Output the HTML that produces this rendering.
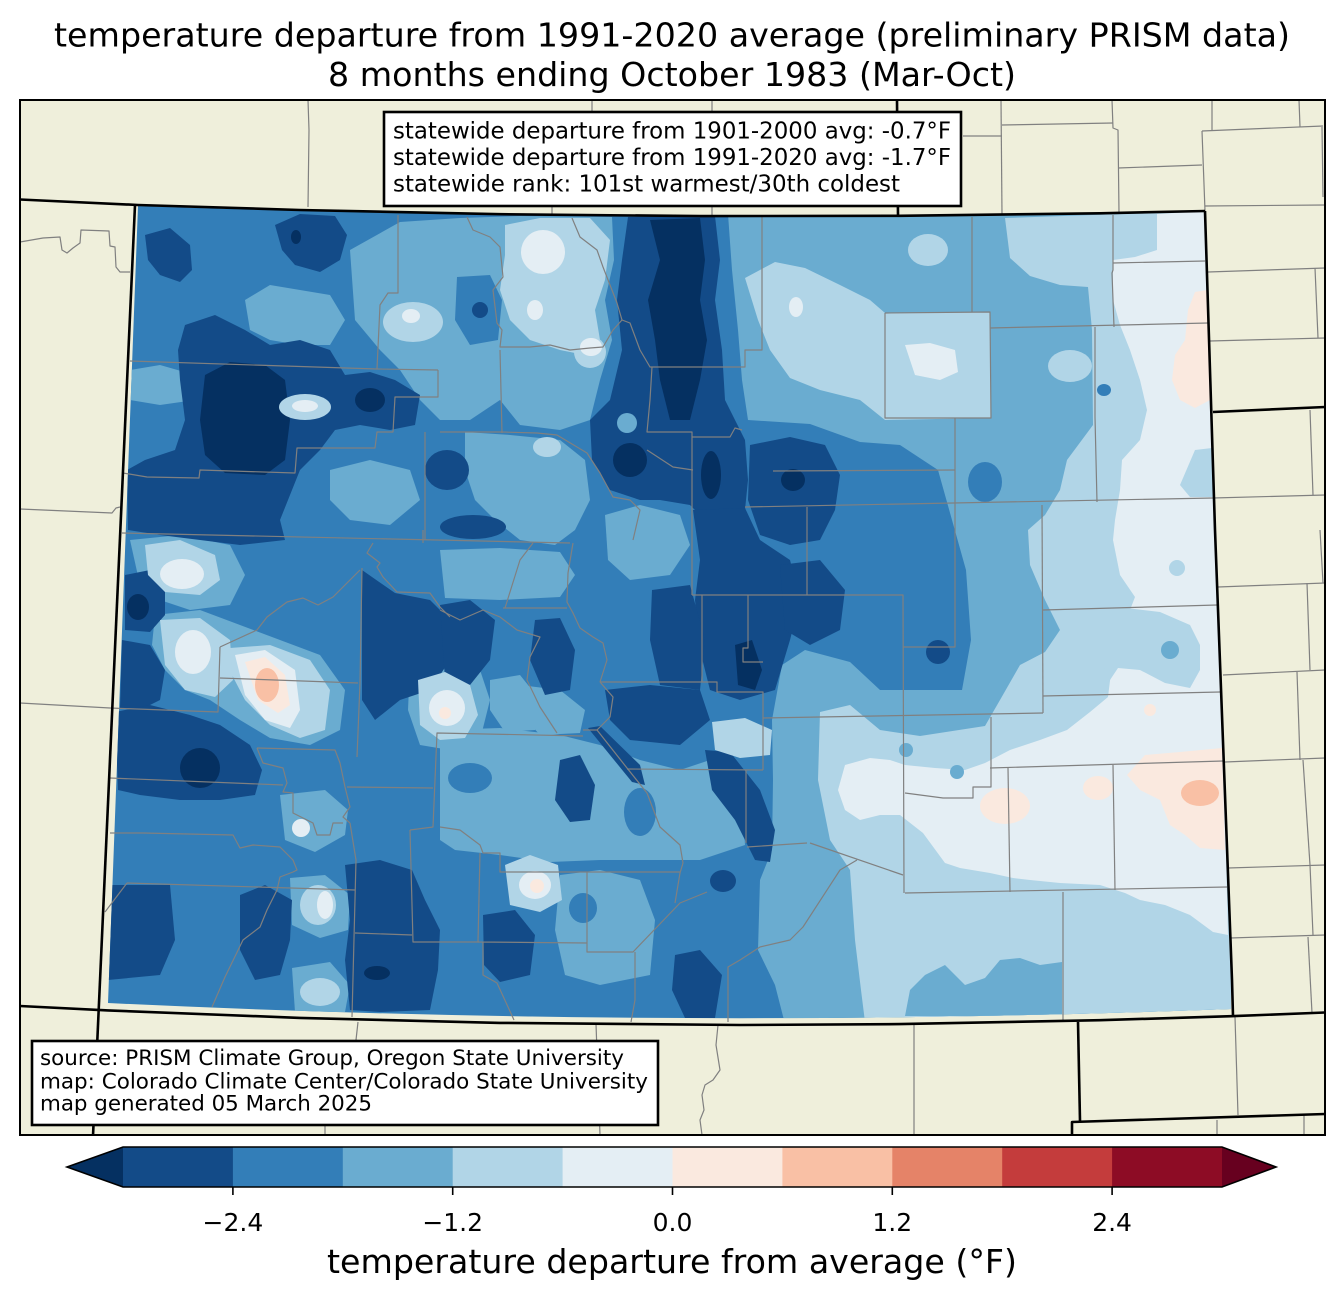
<!DOCTYPE html>
<html>
<head>
<meta charset="utf-8">
<style>
html,body{margin:0;padding:0;background:#fff;}
svg{display:block;}
text{font-family:"DejaVu Sans","Liberation Sans",sans-serif;fill:#000;}
</style>
</head>
<body>
<svg width="1344" height="1299" viewBox="0 0 1344 1299" xmlns="http://www.w3.org/2000/svg">
<rect x="0" y="0" width="1344" height="1299" fill="#ffffff"/>

<!-- Title -->
<text x="54" y="46.5" font-size="33" textLength="1236" lengthAdjust="spacingAndGlyphs">temperature departure from 1991-2020 average (preliminary PRISM data)</text>
<text x="328" y="86" font-size="33" textLength="688" lengthAdjust="spacingAndGlyphs">8 months ending October 1983 (Mar-Oct)</text>

<defs>
  <clipPath id="co">
    <path d="M138,206 Q670,224 1205,212 L1215,530 L1231,980 L1231,1009 Q669,1030 108,1003 Z"/>
  </clipPath>
  <clipPath id="frame">
    <rect x="20" y="100" width="1305" height="1035"/>
  </clipPath>
</defs>

<!-- land -->
<rect x="20" y="100" width="1305" height="1035" fill="#efefdb"/>

<g clip-path="url(#co)">
  <rect x="90" y="195" width="1160" height="840" fill="#337eb8"/>

  <!-- c3 -->
  <g fill="#6aacd0">
    <polygon points="728,214 1210,211 1233,1016 785,1024 775,985 758,950 760,880 772,850 773,780 772,720 782,665 805,650 850,662 880,690 962,690 971,640 966,570 952,520 938,470 900,445 860,442 810,424 748,420 742,380 738,330 732,270"/>
    <polygon points="350,250 400,222 460,218 520,216 612,217 614,260 605,300 612,340 600,380 590,420 560,430 520,425 500,400 470,420 440,420 420,400 400,370 380,350 355,320"/>
    <polygon points="245,300 270,285 300,290 330,295 345,320 330,345 300,345 270,340 250,330"/>
    <polygon points="130,370 160,365 195,375 195,400 160,405 130,400"/>
    <polygon points="330,470 370,460 410,470 420,500 390,525 350,520 330,500"/>
    <polygon points="465,432 510,435 560,440 585,460 590,500 575,530 555,545 520,540 495,520 475,500 465,470"/>
    <polygon points="440,550 500,548 560,552 575,575 560,597 500,600 445,598"/>
    <polygon points="490,680 520,675 540,700 535,730 505,732 490,710"/>
    <polygon points="520,685 560,690 585,710 580,733 540,735 522,715"/>
    <polygon points="440,730 500,728 560,735 600,745 640,760 680,770 710,760 735,765 742,800 745,845 700,860 660,860 600,860 550,862 500,855 455,850 440,840"/>
    <polygon points="560,875 600,870 640,880 655,920 650,975 600,985 565,975 555,930"/>
    <polygon points="290,878 325,875 350,895 348,930 320,938 292,925"/>
    <polygon points="292,968 330,962 350,985 345,1012 295,1012"/>
    <polygon points="280,795 325,790 348,810 345,835 315,852 285,840"/>
    <polygon points="130,540 180,535 230,545 245,575 230,605 190,610 160,600 140,585"/>
    <polygon points="155,615 200,610 240,625 280,640 320,655 345,690 340,730 310,745 270,738 240,720 210,700 185,690 165,670 152,645"/>
    <polygon points="410,665 440,660 480,670 490,700 480,740 450,750 420,745 408,710"/>
  </g>
  <!-- c2 patches inside c3 -->
  <g fill="#337eb8">
    <polygon points="457,277 490,275 502,300 498,340 470,345 455,320"/>
    <ellipse cx="470" cy="778" rx="22" ry="15"/>
    <ellipse cx="640" cy="812" rx="16" ry="24"/>
    <ellipse cx="583" cy="908" rx="14" ry="15"/>
  </g>

  <!-- c4 east -->
  <g fill="#b1d5e7">
    <polygon points="1005,218 1210,211 1233,1016 865,1022 861,990 855,940 850,870 830,840 818,780 820,712 850,705 880,730 920,736 985,726 1000,700 1020,665 1045,652 1060,630 1045,600 1030,565 1028,530 1045,515 1060,490 1067,460 1093,425 1092,330 1088,287 1060,285 1030,276 1010,258"/>
    <polygon points="745,278 775,262 805,268 840,285 870,300 885,313 990,312 991,418 885,420 860,400 820,390 790,378 770,350 758,320"/>
    <polygon points="505,225 540,218 590,218 610,240 605,280 595,310 600,340 585,355 560,350 530,340 510,320 500,290 505,255"/>
    <ellipse cx="413" cy="322" rx="30" ry="20"/>
    <ellipse cx="928" cy="250" rx="20" ry="16"/>
    <ellipse cx="1070" cy="366" rx="22" ry="16"/>
    <ellipse cx="590" cy="352" rx="16" ry="16"/>
  </g>
  <!-- c3 inside c4 (SE bottom) -->
  <g fill="#6aacd0">
    <polygon points="905,1016 910,990 925,975 945,965 965,985 985,978 1000,960 1020,958 1040,965 1062,962 1062,1016"/>
  </g>

  <!-- c5 -->
  <g fill="#e4eef4">
    <polygon points="1157,214 1210,211 1228,935 1213,932 1190,915 1165,905 1140,900 1125,893 1100,885 1060,883 1030,880 1013,878 990,873 960,868 945,863 923,833 900,815 880,815 860,820 845,810 838,790 845,765 870,758 890,760 905,765 935,768 965,770 985,763 1010,750 1040,740 1067,730 1090,712 1108,697 1115,640 1130,610 1135,597 1120,575 1113,540 1115,520 1120,490 1122,460 1140,440 1147,410 1140,380 1130,350 1120,325 1113,300 1113,260 1135,257 1157,250"/>
    <polygon points="905,345 930,343 955,350 958,372 940,380 915,375"/>
    <ellipse cx="543" cy="252" rx="22" ry="22"/>
    <ellipse cx="535" cy="310" rx="8" ry="10"/>
    <ellipse cx="591" cy="347" rx="11" ry="9"/>
    <ellipse cx="411" cy="316" rx="9" ry="7"/>
    <ellipse cx="796" cy="307" rx="7" ry="10"/>
  </g>
  <!-- c4 over c5 -->
  <g fill="#b1d5e7">
    <polygon points="1100,605 1160,612 1190,625 1200,645 1200,670 1190,688 1165,683 1140,670 1118,668 1110,680 1100,660"/>
    <polygon points="1195,450 1212,448 1214,497 1190,497 1180,485"/>
    <ellipse cx="1177" cy="568" rx="8" ry="8"/>
  </g>
  <g fill="#6aacd0">
    <ellipse cx="1170" cy="650" rx="9" ry="9"/>
    <ellipse cx="906" cy="750" rx="7" ry="7"/>
    <ellipse cx="957" cy="772" rx="7" ry="7"/>
  </g>
  <g fill="#337eb8">
    <ellipse cx="1104" cy="390" rx="7" ry="6"/>
    <ellipse cx="985" cy="482" rx="17" ry="20"/>
  </g>
  <!-- c6 / c7 east -->
  <g fill="#fae9df">
    <polygon points="1195,292 1207,290 1210,400 1195,408 1180,400 1172,380 1175,355 1185,340 1188,310"/>
    <ellipse cx="1005" cy="806" rx="25" ry="18"/>
    <ellipse cx="1098" cy="788" rx="15" ry="12"/>
    <polygon points="1145,755 1180,752 1222,748 1225,850 1200,848 1185,835 1170,825 1160,800 1140,790 1127,775"/>
    <ellipse cx="1150" cy="710" rx="6" ry="6"/>
  </g>
  <ellipse cx="1200" cy="793" rx="19" ry="13" fill="#f9c0a5"/>

  <!-- c1 dark -->
  <g fill="#134b88">
    <polygon points="145,235 170,228 190,245 192,270 180,282 160,275 148,260"/>
    <polygon points="275,225 300,214 335,216 347,235 340,260 320,272 295,265 282,250"/>
    <polygon points="185,325 215,315 245,330 270,345 300,340 330,350 345,375 370,372 395,380 420,395 415,425 390,430 360,425 335,430 320,450 300,470 290,495 280,520 285,540 240,545 200,540 160,535 128,530 127,470 145,460 175,450 185,420 180,380 178,350"/>
    <polygon points="125,575 150,570 165,590 165,615 150,632 125,630"/>
    <polygon points="122,640 150,645 165,670 160,700 140,710 120,708"/>
    <polygon points="115,712 150,705 190,715 220,725 250,745 262,770 255,795 220,800 180,800 140,795 118,790"/>
    <polygon points="108,885 170,885 175,940 160,975 108,980"/>
    <polygon points="240,895 265,885 292,900 290,940 280,975 255,980 240,950"/>
    <polygon points="345,865 380,860 412,870 425,900 440,930 438,970 430,1010 380,1012 350,1010 345,960 350,920"/>
    <polygon points="362,570 395,593 430,600 450,620 450,660 430,690 400,700 375,720 362,700"/>
    <polygon points="440,605 470,600 495,620 490,660 470,685 445,680"/>
    <polygon points="535,620 560,618 575,650 570,690 545,695 530,660"/>
    <!-- central band pieces -->
    <polygon points="628,217 715,216 720,260 715,300 722,350 725,400 745,440 748,480 745,510 700,515 690,505 660,500 640,500 610,490 592,460 590,420 610,400 622,350 617,300 622,260"/>
    <polygon points="693,510 745,508 760,540 790,560 800,600 790,640 775,690 740,700 710,690 700,650 695,600 700,560"/>
    <polygon points="652,590 690,585 705,640 700,690 660,685 650,640"/>
    <polygon points="605,690 650,685 700,690 710,720 680,745 630,740 610,720"/>
    <ellipse cx="447" cy="470" rx="22" ry="20"/>
    <ellipse cx="473" cy="527" rx="33" ry="12"/>
    <polygon points="750,445 790,437 825,445 840,475 835,510 820,540 790,545 760,535 748,500"/>
    <polygon points="780,565 820,560 845,590 840,630 810,645 785,630"/>
    <ellipse cx="938" cy="652" rx="12" ry="12"/>
    <polygon points="560,760 580,755 595,785 590,820 570,822 555,800"/>
    <polygon points="705,750 730,752 760,790 775,830 770,862 755,860 735,820 712,790"/>
    <polygon points="588,728 600,726 640,765 645,785 632,782"/>
    <polygon points="483,915 515,910 535,935 530,975 500,982 484,965"/>
    <polygon points="675,955 700,950 722,975 715,1018 685,1018 672,990"/>
    <ellipse cx="723" cy="881" rx="13" ry="11"/>
    <ellipse cx="480" cy="310" rx="8" ry="8"/>
  </g>
  <!-- c3 patch in centre -->
  <polygon fill="#6aacd0" points="605,515 640,505 680,515 690,545 670,575 630,580 608,560"/>
  <ellipse fill="#6aacd0" cx="627" cy="423" rx="10" ry="10"/>
  <!-- c0 darkest -->
  <g fill="#053061">
    <polygon points="205,375 230,362 265,365 285,380 290,420 285,460 265,475 225,473 205,455 200,420"/>
    <polygon points="650,220 700,218 705,260 700,300 707,340 700,380 690,420 670,420 660,380 655,340 648,300 660,260"/>
    <ellipse cx="630" cy="460" rx="17" ry="17"/>
    <ellipse cx="711" cy="475" rx="10" ry="24"/>
    <ellipse cx="793" cy="480" rx="12" ry="11"/>
    <polygon points="735,645 752,640 762,670 755,690 738,685"/>
    <ellipse cx="200" cy="768" rx="20" ry="20"/>
    <ellipse cx="138" cy="607" rx="11" ry="13"/>
    <ellipse cx="377" cy="973" rx="13" ry="7"/>
    <ellipse cx="370" cy="400" rx="15" ry="12"/>
    <ellipse cx="296" cy="237" rx="5" ry="7"/>
  </g>

  <!-- light patches on top of dark -->
  <g fill="#b1d5e7">
    <polygon points="145,545 180,540 215,555 220,580 200,595 165,592 148,575"/>
    <polygon points="160,620 200,618 230,640 233,680 215,697 185,690 165,665"/>
    <polygon points="230,648 270,645 310,660 330,690 325,730 300,738 270,725 245,700 232,675"/>
    <polygon points="418,680 445,672 470,685 478,715 465,738 440,740 420,725"/>
    <polygon points="712,722 745,718 772,730 770,755 740,758 715,750"/>
    <polygon points="505,865 530,855 558,865 562,900 540,912 510,905"/>
    <ellipse cx="318" cy="905" rx="18" ry="20"/>
    <ellipse cx="320" cy="992" rx="20" ry="14"/>
    <ellipse cx="305" cy="407" rx="26" ry="13"/>
    <ellipse cx="547" cy="447" rx="14" ry="10"/>
  </g>
  <g fill="#e4eef4">
    <ellipse cx="182" cy="574" rx="22" ry="15"/>
    <ellipse cx="193" cy="652" rx="18" ry="22"/>
    <polygon points="235,655 265,650 295,670 300,710 290,728 265,720 245,695"/>
    <ellipse cx="447" cy="708" rx="18" ry="18"/>
    <ellipse cx="535" cy="885" rx="16" ry="14"/>
    <ellipse cx="301" cy="828" rx="9" ry="9"/>
    <ellipse cx="305" cy="406" rx="13" ry="6"/>
    <ellipse cx="325" cy="905" rx="8" ry="14"/>
  </g>
  <g fill="#fae9df">
    <polygon points="245,662 265,657 285,675 290,705 278,713 258,700"/>
    <ellipse cx="445" cy="713" rx="6" ry="6"/>
    <ellipse cx="537" cy="886" rx="7" ry="7"/>
  </g>
  <ellipse cx="267" cy="685" rx="12" ry="17" fill="#f9c0a5"/>
</g>

<!-- county lines -->
<g clip-path="url(#frame)" fill="none" stroke="#808080" stroke-width="1.2" stroke-linejoin="round">
  <polyline points="308,100 309,130 308,207"/>
  <polyline points="592,100 592,112"/>
  <polyline points="712,100 712,215"/>
  <polyline points="552,206 552,215"/>
  <polyline points="963,136 1002,136"/>
  <polyline points="1001,100 1002,215"/>
  <polyline points="1002,125 1113,123"/>
  <polyline points="1112,100 1113,128 1118,130 1119,213"/>
  <polyline points="1118,168 1202,165"/>
  <polyline points="1202,131 1323,126"/>
  <polyline points="1202,131 1205,211"/>
  <polyline points="1212,100 1212,130"/>
  <polyline points="1299,100 1300,127"/>
  <polyline points="1322,127 1323,197"/>
  <polyline points="1205,206 1325,205"/>
  <polyline points="1208,272 1325,268"/>
  <polyline points="1315,268 1318,338"/>
  <polyline points="1210,341 1325,338"/>
  <polyline points="1310,410 1313,495"/>
  <polyline points="1213,498 1325,495"/>
  <polyline points="1218,587 1325,583"/>
  <polyline points="1320,530 1323,583"/>
  <polyline points="1307,583 1310,670"/>
  <polyline points="1223,675 1325,670"/>
  <polyline points="1297,672 1300,760"/>
  <polyline points="1225,762 1325,758"/>
  <polyline points="1303,760 1310,865"/>
  <polyline points="1228,868 1325,865"/>
  <polyline points="1310,865 1313,935"/>
  <polyline points="1230,938 1325,935"/>
  <polyline points="1308,937 1312,1013"/>
  <polyline points="1235,1017 1238,1115"/>
  <polyline points="1217,1120 1217,1135"/>
  <polyline points="1304,1114 1304,1135"/>
  <polyline points="914,1025 914,1135"/>
  <polyline points="718,1025 716,1045 720,1070 713,1080 705,1085 702,1095 704,1110 700,1120 702,1135"/>
  <polyline points="596,1024 600,1135"/>
  <polyline points="358,1022 356,1040 325,1124 325,1135"/>
  <polyline points="20,242 43,238 60,237 62,250 67,253 73,248 80,243 81,230 109,231 110,246 115,247 116,267 120,272 130,272"/>
  <polyline points="20,509 112,513 116,508 120,507"/>
  <polyline points="20,703 110,708"/>

  <polyline points="398,215 398,293 388,293 380,305 377,369"/>
  <polyline points="130,361 377,369 438,370"/>
  <polyline points="438,370 438,397 395,397 393,432 377,432 375,448 297,448 295,473 200,470 199,478 147,477 123,473"/>
  <polyline points="425,432 425,540"/>
  <polyline points="467,217 473,230 490,237 500,247 503,277 493,290 497,323 502,330 500,347 530,347 550,345 570,350 590,348 603,347 613,330 622,320 617,303 603,267 597,250 580,237 572,218"/>
  <polyline points="622,320 630,323 640,350 650,367 745,367 745,350 762,350 762,216"/>
  <polyline points="500,350 502,433"/>
  <polyline points="440,432 502,432 537,433 557,435 587,453 600,473 613,497 630,500 640,510 633,540"/>
  <polyline points="652,367 650,400 647,432 692,432 692,595"/>
  <polyline points="647,450 673,467 693,470"/>
  <polyline points="692,437 730,437 735,428 742,430"/>
  <polyline points="745,507 1213,498"/>
  <polyline points="807,507 807,595"/>
  <polyline points="972,217 972,312"/>
  <polyline points="885,313 990,312 991,418 885,418 885,313"/>
  <polyline points="990,328 1208,323"/>
  <polyline points="1113,215 1113,270 1112,273 1114,327"/>
  <polyline points="1113,263 1205,261"/>
  <polyline points="1095,327 1095,417 1097,502"/>
  <polyline points="773,471 955,470"/>
  <polyline points="955,418 955,647 903,647"/>
  <polyline points="1042,505 1043,713"/>
  <polyline points="692,595 903,595 904,893"/>
  <polyline points="763,718 1043,713"/>
  <polyline points="1043,610 1217,605"/>
  <polyline points="1043,696 1220,692"/>
  <polyline points="990,768 1223,761"/>
  <polyline points="991,717 991,787 973,787 973,798 943,798 905,793"/>
  <polyline points="1008,768 1010,892"/>
  <polyline points="1113,765 1115,890"/>
  <polyline points="905,893 1227,887"/>
  <polyline points="1063,892 1063,1020"/>
  <polyline points="810,843 903,875"/>
  <polyline points="807,843 747,847"/>
  <polyline points="857,860 840,870 803,927 790,940 760,947 740,960 728,967 728,1022"/>
  <polyline points="702,595 702,682"/>
  <polyline points="600,682 717,682 717,692 763,692 763,770"/>
  <polyline points="627,769 763,770"/>
  <polyline points="748,595 748,648 743,648 743,662 763,662"/>
  <polyline points="746,770 746,843"/>
  <polyline points="583,730 597,730 627,768 647,793 660,827 680,845 683,863 680,873 675,903"/>
  <polyline points="600,682 613,697 610,717 597,730"/>
  <polyline points="600,682 607,660 603,643 593,637 580,628 573,613 567,602 568,573 573,543"/>
  <polyline points="122,533 570,543"/>
  <polyline points="503,608 567,608"/>
  <polyline points="505,608 520,560 533,543"/>
  <polyline points="440,610 460,620 483,610 500,617 517,630 540,637 530,657 527,680 540,707 557,733"/>
  <polyline points="440,827 460,830 480,845 483,853 500,853 500,872 680,872"/>
  <polyline points="587,872 587,952 633,952 680,903 707,892"/>
  <polyline points="480,853 478,942 587,943"/>
  <polyline points="483,942 483,975 497,983 514,1020"/>
  <polyline points="635,952 635,1000 631,1022"/>
  <polyline points="423,530 423,543"/>
  <polyline points="373,543 367,553 380,563 377,567 383,577 397,592 430,593 440,607 450,617"/>
  <polyline points="362,568 360,683 357,757"/>
  <polyline points="220,647 218,712 110,708"/>
  <polyline points="220,647 257,630 267,617 287,602 303,598 318,605 333,597 343,587 360,570"/>
  <polyline points="220,678 358,683"/>
  <polyline points="257,748 335,750 340,763 345,787 350,807 343,817 350,823"/>
  <polyline points="257,748 263,763 283,768 287,783 283,792 293,793 293,813 313,823 317,835 330,835 333,823 343,823"/>
  <polyline points="110,778 283,785"/>
  <polyline points="110,833 143,833 233,835 240,848 253,845 280,847 293,860 297,870 293,872 280,877 277,890 267,910 260,927 243,940 225,977 212,1007"/>
  <polyline points="127,883 355,890"/>
  <polyline points="127,883 105,912"/>
  <polyline points="350,823 356,860 352,1017"/>
  <polyline points="355,933 412,935"/>
  <polyline points="410,830 413,942 479,942"/>
  <polyline points="410,830 433,827 437,733 583,736"/>
  <polyline points="347,787 433,788"/>
</g>

<!-- state borders -->
<g clip-path="url(#frame)" fill="none" stroke="#000" stroke-width="2.6" stroke-linejoin="round">
  <polyline points="20,199.5 138,205 300,210 500,214.2 700,216.1 900,215.8 1100,213.3 1205,211"/>
  <polyline points="135,205 93,1136"/>
  <polyline points="1205,211 1215,530 1232,980 1233,1016"/>
  <polyline points="20,1006 108,1010.4 300,1017.9 500,1022.9 740,1025 900,1024.1 1100,1020.2 1231,1016.2 1325,1012.5"/>
  <polyline points="897,100 898,215.8"/>
  <polyline points="1213,412 1325,407"/>
  <polyline points="1078,1022 1080,1121"/>
  <polyline points="1072,1136 1072,1122 1325,1114"/>
</g>

<!-- frame -->
<rect x="20" y="100" width="1305" height="1035" fill="none" stroke="#000" stroke-width="2"/>

<!-- info box -->
<rect x="384" y="112" width="577" height="94" fill="#fff" stroke="#000" stroke-width="2.6"/>
<text x="393" y="138.5" font-size="22.9" textLength="558" lengthAdjust="spacingAndGlyphs">statewide departure from 1901-2000 avg: -0.7°F</text>
<text x="393" y="165" font-size="22.9" textLength="558" lengthAdjust="spacingAndGlyphs">statewide departure from 1991-2020 avg: -1.7°F</text>
<text x="393" y="191.7" font-size="22.9" textLength="507" lengthAdjust="spacingAndGlyphs">statewide rank: 101st warmest/30th coldest</text>

<!-- source box -->
<rect x="32" y="1041" width="626" height="84" fill="#fff" stroke="#000" stroke-width="2.6"/>
<text x="40" y="1065" font-size="21.4" textLength="584" lengthAdjust="spacingAndGlyphs">source: PRISM Climate Group, Oregon State University</text>
<text x="40" y="1088.3" font-size="21.4" textLength="608" lengthAdjust="spacingAndGlyphs">map: Colorado Climate Center/Colorado State University</text>
<text x="40" y="1110.7" font-size="21.4" textLength="332" lengthAdjust="spacingAndGlyphs">map generated 05 March 2025</text>

<!-- colorbar -->
<polygon points="67,1167 123,1147 123,1187" fill="#053061"/>
<rect x="123" y="1147" width="110.5" height="40" fill="#134b88"/>
<rect x="232.9" y="1147" width="110.5" height="40" fill="#337eb8"/>
<rect x="342.8" y="1147" width="110.5" height="40" fill="#6aacd0"/>
<rect x="452.7" y="1147" width="110.5" height="40" fill="#b1d5e7"/>
<rect x="562.6" y="1147" width="110.5" height="40" fill="#e4eef4"/>
<rect x="672.5" y="1147" width="110.5" height="40" fill="#fae9df"/>
<rect x="782.4" y="1147" width="110.5" height="40" fill="#f9c0a5"/>
<rect x="892.3" y="1147" width="110.5" height="40" fill="#e58368"/>
<rect x="1002.2" y="1147" width="110.5" height="40" fill="#c43c3c"/>
<rect x="1112.1" y="1147" width="109.9" height="40" fill="#8d0c25"/>
<polygon points="1222,1147 1276,1167 1222,1187" fill="#67001f"/>
<path d="M123,1147 L1222,1147 L1276,1167 L1222,1187 L123,1187 L67,1167 Z" fill="none" stroke="#000" stroke-width="1.6" stroke-linejoin="miter"/>
<g stroke="#000" stroke-width="1.6">
  <line x1="232.9" y1="1187" x2="232.9" y2="1195"/>
  <line x1="452.7" y1="1187" x2="452.7" y2="1195"/>
  <line x1="672.5" y1="1187" x2="672.5" y2="1195"/>
  <line x1="892.3" y1="1187" x2="892.3" y2="1195"/>
  <line x1="1112.1" y1="1187" x2="1112.1" y2="1195"/>
</g>
<g font-size="25" text-anchor="middle">
  <text x="232.9" y="1231">−2.4</text>
  <text x="452.7" y="1231">−1.2</text>
  <text x="672.5" y="1231">0.0</text>
  <text x="892.3" y="1231">1.2</text>
  <text x="1112.1" y="1231">2.4</text>
</g>
<text x="327" y="1273" font-size="33" textLength="690" lengthAdjust="spacingAndGlyphs">temperature departure from average (°F)</text>
</svg>
</body>
</html>
